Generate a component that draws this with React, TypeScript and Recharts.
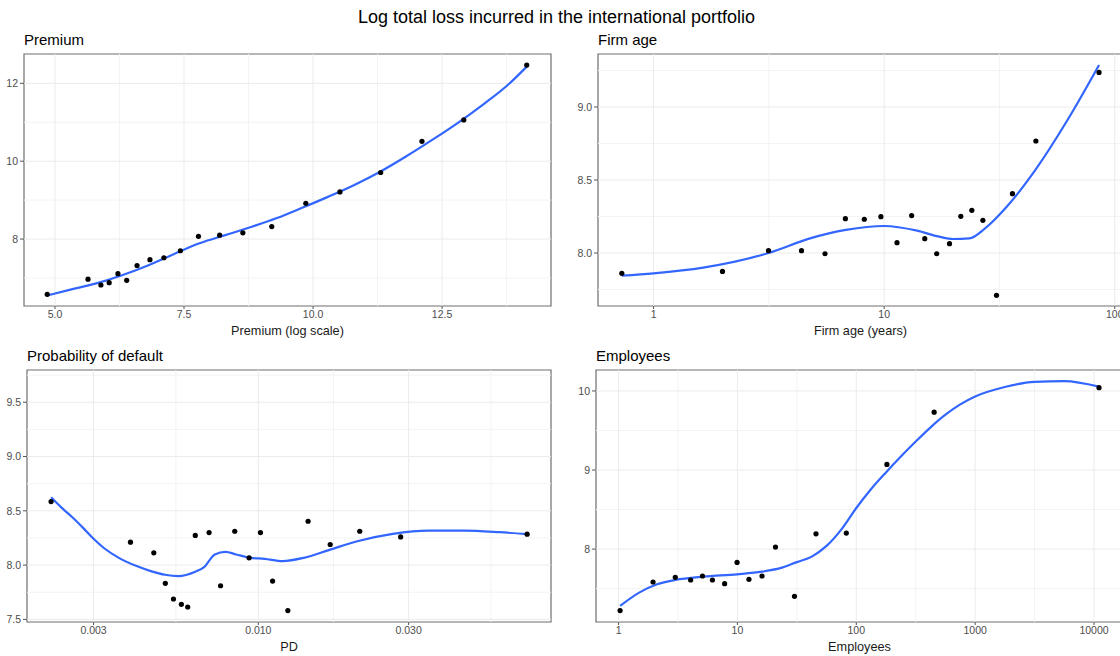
import React from "react";
import { ComposedChart, Scatter, Line, XAxis, YAxis, ReferenceLine, ReferenceArea } from "recharts";

// Premium (log scale) vs log loss
const premiumX = [4.85, 5.64, 5.89, 6.05, 6.22, 6.39, 6.59, 6.84, 7.11, 7.43, 7.78, 8.19, 8.64, 9.2, 9.86, 10.52, 11.31, 12.11, 12.92, 14.14];
const premiumY = [6.58, 6.97, 6.82, 6.88, 7.11, 6.94, 7.32, 7.47, 7.52, 7.7, 8.07, 8.1, 8.16, 8.32, 8.92, 9.21, 9.71, 10.51, 11.06, 12.47];
const premiumFitX = [4.85, 5.3, 5.8, 6.3, 6.8, 7.3, 7.8, 8.3, 8.8, 9.3, 9.8, 10.3, 10.8, 11.3, 11.8, 12.3, 12.8, 13.3, 13.8, 14.14];
const premiumFitY = [6.55, 6.7, 6.86, 7.07, 7.32, 7.61, 7.89, 8.1, 8.31, 8.54, 8.81, 9.09, 9.39, 9.73, 10.12, 10.54, 10.98, 11.46, 11.99, 12.43];

// Firm age (years)
const ageX = [0.728, 1.99, 3.15, 4.38, 5.54, 6.79, 8.2, 9.68, 11.37, 13.16, 15.0, 16.9, 19.2, 21.5, 24.0, 26.8, 30.7, 36.0, 45.5, 85.5];
const ageY = [7.861, 7.874, 8.016, 8.016, 7.995, 8.235, 8.231, 8.249, 8.071, 8.256, 8.098, 7.995, 8.064, 8.251, 8.292, 8.224, 7.71, 8.406, 8.767, 9.237];
const ageFitX = [0.728, 1, 1.64, 3.15, 4.77, 6.82, 10, 13.9, 17.3, 19.9, 23.4, 27.4, 34.0, 45.2, 62.4, 85.5];
const ageFitY = [7.845, 7.861, 7.9, 8.0, 8.1, 8.158, 8.185, 8.153, 8.112, 8.096, 8.1, 8.169, 8.317, 8.568, 8.911, 9.288];

// Probability of default
const pdX = [0.0022, 0.00393, 0.00466, 0.00507, 0.00538, 0.0057, 0.00597, 0.00631, 0.00698, 0.00759, 0.00842, 0.00935, 0.01016, 0.0111, 0.01241, 0.01439, 0.01691, 0.02099, 0.0283, 0.0713];
const pdY = [8.585, 8.211, 8.113, 7.832, 7.688, 7.639, 7.614, 8.273, 8.3, 7.81, 8.312, 8.067, 8.3, 7.853, 7.581, 8.404, 8.19, 8.312, 8.26, 8.285];
const pdFitX = [0.0022, 0.00238, 0.00257, 0.00278, 0.003, 0.00325, 0.00361, 0.00411, 0.00456, 0.00506, 0.00557, 0.00631, 0.00673, 0.00728, 0.00787, 0.00851, 0.00944, 0.01047, 0.01193, 0.01396, 0.01675, 0.02061, 0.02673, 0.03467, 0.04498, 0.05836, 0.0713];
const pdFitY = [8.625, 8.527, 8.441, 8.343, 8.242, 8.153, 8.067, 7.991, 7.945, 7.911, 7.899, 7.939, 7.982, 8.098, 8.122, 8.098, 8.067, 8.058, 8.037, 8.067, 8.138, 8.22, 8.288, 8.318, 8.318, 8.303, 8.285];

// Employees
const empX = [1.03, 1.95, 3.0, 4.04, 5.08, 6.16, 7.8, 9.93, 12.5, 16.1, 20.9, 30.2, 45.8, 82.4, 181, 452, 11020];
const empY = [7.223, 7.584, 7.643, 7.609, 7.66, 7.609, 7.563, 7.832, 7.618, 7.66, 8.025, 7.403, 8.193, 8.202, 9.071, 9.731, 10.042];
const empFitX = [1.03, 1.49, 2.11, 3.0, 5.19, 9.93, 16.1, 23.7, 31.6, 42.2, 56.2, 75, 100, 133.4, 177.8, 237.1, 316.2, 421.7, 562.3, 749.9, 1000, 1778, 3162, 5623, 11020];
const empFitY = [7.282, 7.45, 7.555, 7.609, 7.651, 7.681, 7.714, 7.765, 7.835, 7.905, 8.04, 8.25, 8.52, 8.76, 8.97, 9.17, 9.36, 9.54, 9.7, 9.83, 9.93, 10.05, 10.115, 10.125, 10.055];

const TITLE = "Log total loss incurred in the international portfolio";
const FONT = "'Liberation Sans', Arial, Helvetica, sans-serif";
const BLUE = "#3366FF";

const zip = (xs: number[], ys: number[]) => xs.map((x, i) => ({ x, y: ys[i] }));

interface PanelSpec {
  title: string;
  xLabel: string;
  left: number; top: number; w: number; h: number;
  log: boolean;
  xDomain: [number, number]; yDomain: [number, number];
  xTicks: number[]; yTicks: number[];
  xMinor: number[]; yMinor: number[];
  xFmt: (v: number) => string; yFmt: (v: number) => string;
  points: { x: number; y: number }[];
  fit: { x: number; y: number }[];
}

const panels: PanelSpec[] = [
  {
    title: "Premium", xLabel: "Premium (log scale)",
    left: 24, top: 54, w: 527, h: 252, log: false,
    xDomain: [4.4, 14.61], yDomain: [6.28, 12.754],
    xTicks: [5, 7.5, 10, 12.5], yTicks: [8, 10, 12],
    xMinor: [6.25, 8.75, 11.25, 13.75], yMinor: [7, 9, 11],
    xFmt: (v) => v.toFixed(1), yFmt: (v) => String(v),
    points: zip(premiumX, premiumY), fit: zip(premiumFitX, premiumFitY),
  },
  {
    title: "Firm age", xLabel: "Firm age (years)",
    left: 598, top: 54, w: 525, h: 252, log: true,
    xDomain: [0.574, 108.6], yDomain: [7.637, 9.363],
    xTicks: [1, 10, 100], yTicks: [8, 8.5, 9],
    xMinor: [3.1623, 31.623], yMinor: [7.75, 8.25, 8.75, 9.25],
    xFmt: (v) => String(v), yFmt: (v) => v.toFixed(1),
    points: zip(ageX, ageY), fit: zip(ageFitX, ageFitY),
  },
  {
    title: "Probability of default", xLabel: "PD",
    left: 27, top: 370, w: 524, h: 252, log: true,
    xDomain: [0.001845, 0.0849], yDomain: [7.476, 9.797],
    xTicks: [0.003, 0.01, 0.03], yTicks: [7.5, 8, 8.5, 9, 9.5],
    xMinor: [0.005477, 0.01732, 0.05477], yMinor: [7.75, 8.25, 8.75, 9.25, 9.75],
    xFmt: (v) => v.toFixed(3), yFmt: (v) => v.toFixed(1),
    points: zip(pdX, pdY), fit: zip(pdFitX, pdFitY),
  },
  {
    title: "Employees", xLabel: "Employees",
    left: 596, top: 370, w: 527, h: 252, log: true,
    xDomain: [0.6457, 17539], yDomain: [7.078, 10.265],
    xTicks: [1, 10, 100, 1000, 10000], yTicks: [8, 9, 10],
    xMinor: [3.1623, 31.623, 316.23, 3162.3], yMinor: [7.5, 8.5, 9.5],
    xFmt: (v) => String(v), yFmt: (v) => String(v),
    points: zip(empX, empY), fit: zip(empFitX, empFitY),
  },
];

const YW = 40, MT = 4, MR = 4, XH = 24;
const tickStyle = { fontSize: 10.5, fill: "#4d4d4d", fontFamily: FONT };

function Dot(props: any) {
  return <circle cx={props.cx} cy={props.cy} r={2.6} fill="#000" />;
}

function Panel({ p }: { p: PanelSpec }) {
  return (
    <>
      <div style={{ position: "absolute", left: p.left, top: p.top - 22, fontSize: 15, lineHeight: "16px", color: "#000", whiteSpace: "nowrap" }}>
        {p.title}
      </div>
      <div style={{ position: "absolute", left: p.left - YW, top: p.top - MT }}>
        <ComposedChart width={YW + p.w + MR} height={MT + p.h + XH} margin={{ top: MT, right: MR, bottom: 0, left: 0 }}>
          {p.xMinor.map((v) => <ReferenceLine key={"xm" + v} x={v} stroke="#f3f3f3" strokeWidth={1} />)}
          {p.yMinor.map((v) => <ReferenceLine key={"ym" + v} y={v} stroke="#f3f3f3" strokeWidth={1} />)}
          {p.xTicks.map((v) => <ReferenceLine key={"xM" + v} x={v} stroke="#ebebeb" strokeWidth={1} />)}
          {p.yTicks.map((v) => <ReferenceLine key={"yM" + v} y={v} stroke="#ebebeb" strokeWidth={1} />)}
          <XAxis
            type="number" dataKey="x" scale={p.log ? "log" : "linear"} domain={p.xDomain} allowDataOverflow
            ticks={p.xTicks} interval={0} tickFormatter={p.xFmt} height={XH}
            axisLine={false} tickLine={{ stroke: "#555" }} tickSize={3} tickMargin={2} tick={tickStyle}
          />
          <YAxis
            type="number" dataKey="y" domain={p.yDomain} allowDataOverflow
            ticks={p.yTicks} interval={0} tickFormatter={p.yFmt} width={YW}
            axisLine={false} tickLine={{ stroke: "#555" }} tickSize={4} tickMargin={2} tick={tickStyle}
          />
          <ReferenceArea x1={p.xDomain[0]} x2={p.xDomain[1]} y1={p.yDomain[0]} y2={p.yDomain[1]} fill="none" fillOpacity={0} stroke="#6e6e6e" strokeWidth={1.2} ifOverflow="visible" />
          <Scatter data={p.points} dataKey="y" shape={Dot} isAnimationActive={false} />
          <Line data={p.fit} dataKey="y" type="monotone" stroke={BLUE} strokeWidth={2.2} dot={false} activeDot={false} isAnimationActive={false} />
        </ComposedChart>
      </div>
      <div style={{ position: "absolute", left: p.left, width: p.w, top: p.top + p.h + 18, textAlign: "center", fontSize: 12.7, lineHeight: "14px", color: "#1a1a1a", whiteSpace: "nowrap" }}>
        {p.xLabel}
      </div>
    </>
  );
}

export default function App() {
  return (
    <div style={{ position: "fixed", left: 0, top: 0, width: 1120, height: 656, overflow: "hidden", background: "#fff", fontFamily: FONT }}>
      <div style={{ position: "absolute", left: 0, width: 1113, top: 7, textAlign: "center", fontSize: 18, lineHeight: "20px", color: "#000", whiteSpace: "nowrap" }}>
        {TITLE}
      </div>
      {panels.map((p) => <Panel key={p.title} p={p} />)}
    </div>
  );
}
